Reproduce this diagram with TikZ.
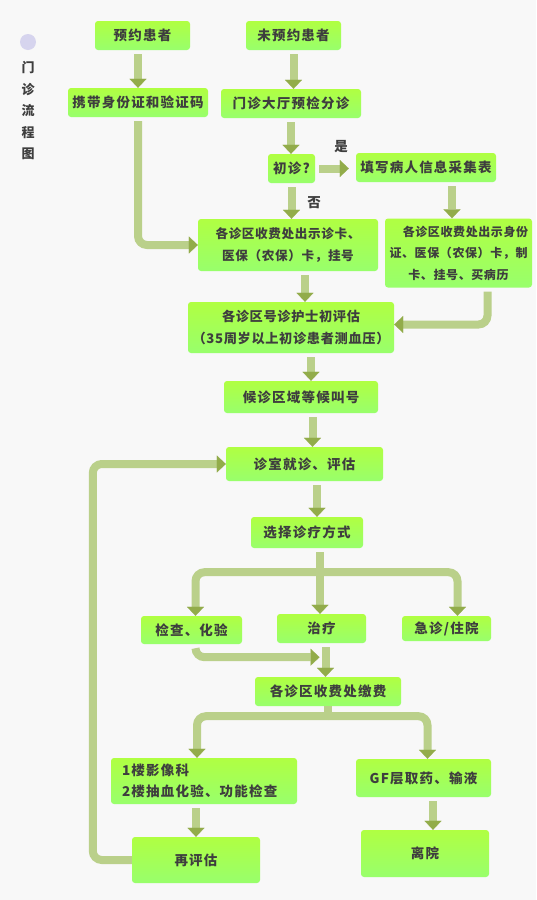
\documentclass[tikz,border=0pt]{standalone}
\usepackage{fontspec}
\usepackage{xcolor}
\usepackage{tikz}
\usetikzlibrary{arrows.meta, positioning, calc}
\newfontfamily\cjk[LetterSpace=9]{Noto Sans CJK SC}
\newfontfamily\cjknarrow[LetterSpace=5]{Noto Sans CJK SC}
\definecolor{boxtop}{RGB}{176,255,66}
\definecolor{boxbot}{RGB}{152,255,108}
\definecolor{shaft}{RGB}{186,208,138}
\definecolor{tipc}{RGB}{146,172,74}
\definecolor{txt}{RGB}{62,62,62}
\definecolor{bgc}{RGB}{248,248,248}
\definecolor{dotc}{RGB}{214,212,238}

\begin{document}
\begin{tikzpicture}[
    x=1pt, y=-1pt,
    every node/.style={font=\cjk\bfseries\fontsize{13.5}{21.5}\selectfont, text=txt},
    stepbox/.style={rectangle, rounded corners=3pt, top color=boxtop, bottom color=boxbot,
                    draw=none, align=center, inner sep=0pt},
    arr/.style={-{Triangle[width=17pt, length=9pt, line width=0.1pt, color=tipc, fill=tipc]},
                line width=8pt, color=shaft, shorten <=4pt, rounded corners=9pt},
    flow/.style={line width=8pt, color=shaft},
]
    \fill[bgc] (0,0) rectangle (536,900);
    \useasboundingbox (0,0) rectangle (536,900);

    % title
    \node[circle, fill=dotc, minimum size=16pt, inner sep=0pt] (dot) at (28,42) {};
    \node[align=center, text=txt, font=\cjk\bfseries\fontsize{13}{21.5}\selectfont] (ttl) at (28,111) {门\\诊\\流\\程\\图};

    % boxes
    \node[stepbox, minimum width=95pt, minimum height=29pt] (yy) at (142.5,35.5) {预约患者};
    \node[stepbox, minimum width=95pt, minimum height=29pt] (wy) at (293.5,35.5) {未预约患者};
    \node[stepbox, minimum width=140pt, minimum height=29pt] (xd) at (138,102.5) {携带身份证和验证码};
    \node[stepbox, minimum width=140pt, minimum height=29pt] (fz) at (291,103.5) {门诊大厅预检分诊};
    \node[stepbox, minimum width=47pt, minimum height=29pt] (cz) at (291.5,168.5) {初诊?};
    \node[stepbox, minimum width=140pt, minimum height=29pt] (tx) at (426,167.5) {填写病人信息采集表};
    \node[stepbox, minimum width=180pt, minimum height=52pt,
          font=\cjknarrow\bfseries\fontsize{12.6}{22}\selectfont] (sf) at (288,245) {各诊区收费处出示诊卡、\\医保（农保）卡，挂号};
    \node[stepbox, minimum width=147pt, minimum height=69pt,
          font=\cjknarrow\bfseries\fontsize{12}{21.5}\selectfont] (sf2) at (458.5,253) {\hspace*{14pt}各诊区收费处出示身份\\证、医保（农保）卡，制\\卡、挂号、买病历};
    \node[stepbox, minimum width=206pt, minimum height=51pt,
          font=\cjknarrow\bfseries\fontsize{13.2}{21.5}\selectfont] (ch) at (291,327.5) {各诊区号诊护士初评估\\（35周岁以上初诊患者测血压）};
    \node[stepbox, minimum width=154pt, minimum height=32pt] (hz) at (301,397) {候诊区域等候叫号};
    \node[stepbox, minimum width=157pt, minimum height=34pt] (jz) at (304.5,464) {诊室就诊、评估};
    \node[stepbox, minimum width=112pt, minimum height=31pt] (xz) at (307,532.5) {选择诊疗方式};
    \node[stepbox, minimum width=101pt, minimum height=28pt] (jc) at (191.5,630) {检查、化验};
    \node[stepbox, minimum width=89pt, minimum height=29pt] (zl) at (321.5,628.5) {治疗};
    \node[stepbox, minimum width=89pt, minimum height=25pt] (jy) at (446.5,628.5) {急诊/住院};
    \node[stepbox, minimum width=146pt, minimum height=29pt] (jf) at (328,691.5) {各诊区收费处缴费};
    \node[stepbox, minimum width=186pt, minimum height=46pt, text width=164pt, align=left] (lc) at (204,781) {1楼影像科\\2楼抽血化验、功能检查};
    \node[stepbox, minimum width=135pt, minimum height=38pt] (gf) at (423.5,778) {GF层取药、输液};
    \node[stepbox, minimum width=128pt, minimum height=46pt] (zp) at (196,860) {再评估};
    \node[stepbox, minimum width=128pt, minimum height=47pt] (ly) at (425,853.5) {离院};

    % labels
    \node (shi) at (341,147) {是};
    \node (fou) at (314,203) {否};

    % connectors
    \draw[arr] (xd.north |- yy.south) -- (xd.north);
    \draw[arr] (wy.south) -- (wy.south |- fz.north);
    \draw[arr] (fz.south) -- (fz.south |- cz.north);
    \draw[arr, shorten >=7pt] (cz.east) -- (tx.west |- cz.east);
    \draw[arr] (cz.south) -- (cz.south |- sf.north);
    \draw[arr] ([xshift=26pt]tx.south) -- ([xshift=26pt]tx.south |- sf2.north);
    \draw[arr] (xd.south) |- (sf.west);
    \draw[arr] ([xshift=17pt]sf.south) -- ([xshift=17pt]sf.south |- ch.north);
    \draw[arr] ([xshift=29pt]sf2.south) |- ([yshift=3pt]ch.east);
    \draw[arr] ([xshift=10pt]hz.north |- ch.south) -- ([xshift=10pt]hz.north);
    \draw[arr] ([xshift=8pt]jz.north |- hz.south) -- ([xshift=8pt]jz.north);
    \draw[arr] ([xshift=10pt]xz.north |- jz.south) -- ([xshift=10pt]xz.north);
    \draw[arr] ([xshift=13pt]xz.south) -- ([xshift=13pt]xz.south |- zl.north);
    \draw[arr] ([xshift=13pt,yshift=-24pt]xz.south) -| ([xshift=4pt]jc.north);
    \draw[arr] ([xshift=13pt,yshift=-24pt]xz.south) -| ([xshift=11pt]jy.north);
    \draw[arr] ([xshift=4pt]jc.south) |- ([xshift=-2pt,yshift=-14pt]zl.south);
    \draw[arr] ([xshift=4pt]zl.south) -- ([xshift=4pt]zl.south |- jf.north);
    \draw[flow] (jf.south) -- ([yshift=-10pt]jf.south);
    \draw[arr, shorten <=0pt] ([yshift=-10pt]jf.south) -| ([xshift=-7pt]lc.north);
    \draw[arr, shorten <=0pt] ([yshift=-10pt]jf.south) -| ([xshift=4pt]gf.north);
    \draw[arr] (zp.north |- lc.south) -- (zp.north);
    \draw[arr] ([xshift=8pt]ly.north |- gf.south) -- ([xshift=8pt]ly.north);
    \draw[arr, shorten <=0pt] (zp.west) -- ++(-39,0) |- (jz.west);
\end{tikzpicture}
\end{document}
